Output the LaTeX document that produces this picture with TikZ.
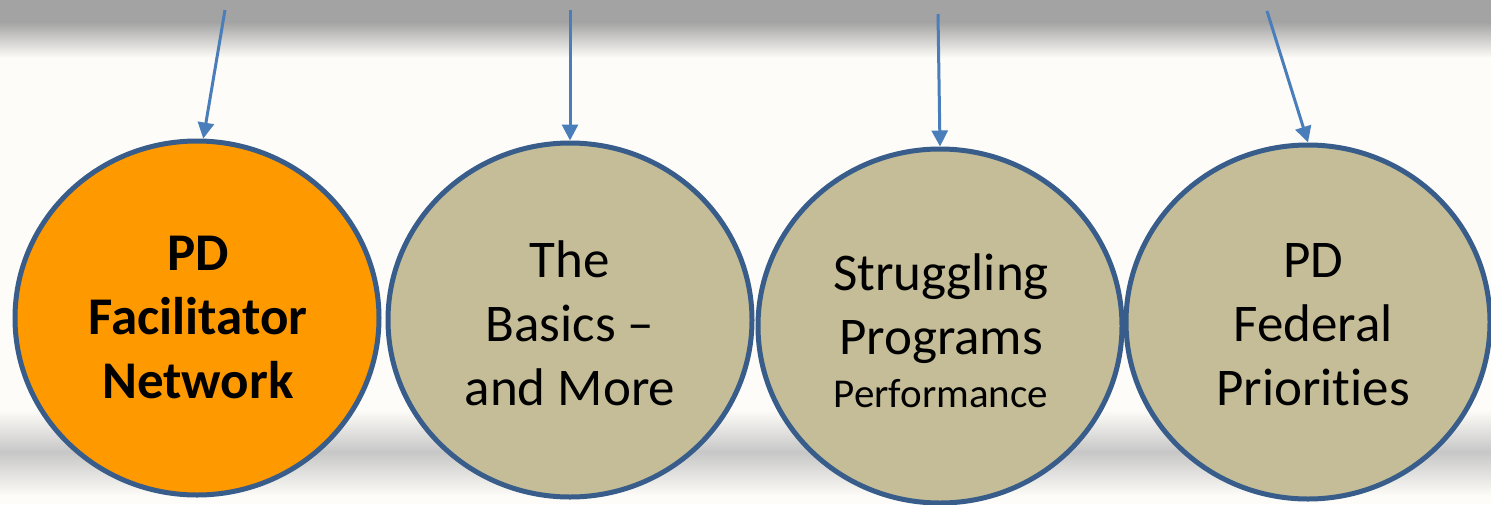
\documentclass[tikz,border=0pt]{standalone}
\usepackage{fontspec}
\setmainfont{Carlito}[Ligatures=NoCommon]
\usepackage{xcolor}
\usetikzlibrary{arrows.meta,shapes.geometric,positioning}

\definecolor{ringblue}{HTML}{385D8A}
\definecolor{arrowblue}{HTML}{4A7EBB}
\definecolor{padorange}{HTML}{FF9900}
\definecolor{padtan}{HTML}{C4BD97}
\definecolor{paper}{HTML}{FDFCF8}

\tikzset{
  pad/.style={ellipse, draw=ringblue, line width=5pt, fill=padtan,
    minimum width=364pt, minimum height=354pt, inner sep=0pt},
  padtext/.style={align=center, anchor=base, text=black,
    font=\fontsize{53}{64}\selectfont},
  feed/.style={-{Triangle[width=16pt,length=16pt]}, draw=arrowblue, line width=3pt}
}

\begin{document}
\begin{tikzpicture}[x=1pt,y=-1pt]

  % background, grey band on top and shadow at the bottom
  \fill[paper] (0,0) rectangle (1491,504);
  \shade[top color=black!36, bottom color=black!36] (0,0) rectangle (1491,22);
  \shade[top color=black!36, bottom color=paper] (0,22) rectangle (1491,58);
  \shade[top color=paper, bottom color=black!22] (0,410) rectangle (1491,452);
  \shade[top color=black!22, bottom color=paper] (0,452) rectangle (1491,496);
  \useasboundingbox (0,0) rectangle (1491,504);

  % the four pads
  \node[pad, fill=padorange] (c1) at (197,318) {};
  \node[pad] (c2) at (570,320) {};
  \node[pad] (c3) at (940,326) {};
  \node[pad] (c4) at (1308,322) {};

    % labels, placed on the baseline of their last line
    \node[padtext, font=\fontsize{53}{64}\selectfont\bfseries] (t1) at (198,398) {PD\\Facilitator\\Network};
    \node[padtext] (t2) at (570,405) {The\\Basics –\\and More};
    \node[padtext] (t3) at (941,407) {Struggling\\Programs\\[-11pt]{\fontsize{41}{48}\selectfont Performance}};
    \node[padtext] (t4) at (1313,405) {PD\\Federal\\Priorities};

  % arrows from the top edge
  \coordinate (s1) at (225,10);
  \coordinate (s2) at (570,10);
  \coordinate (s3) at (938,14);
  \coordinate (s4) at (1267,11);
            \draw[feed] (s1) -- (c1.88);
            \draw[feed] (s2) -- (c2.north);
            \draw[feed] (s3) -- (c3.north);
            \draw[feed] (s4) -- (c4.north);

\end{tikzpicture}
\end{document}
